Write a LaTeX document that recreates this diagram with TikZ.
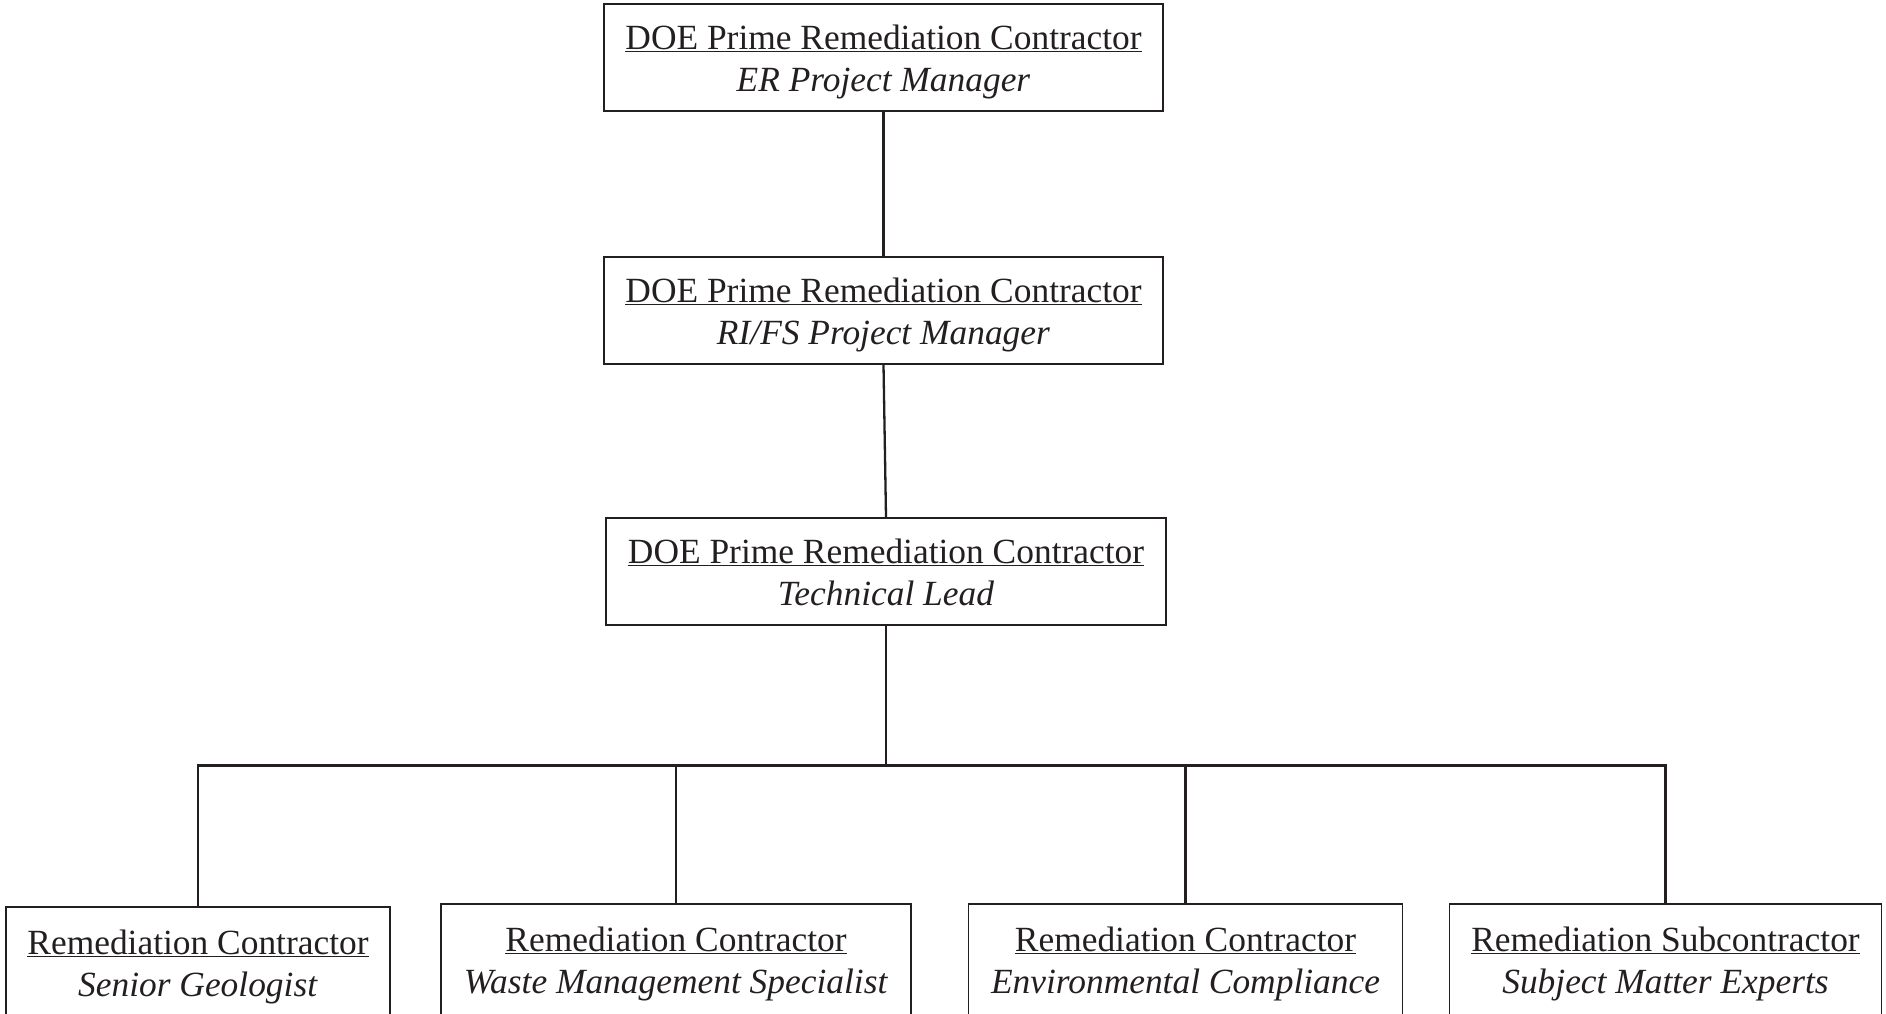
\documentclass[tikz,border=0pt]{standalone}
\usepackage{fontspec}
\setmainfont{Liberation Serif}
\definecolor{ink}{HTML}{231F20}
\newcommand\mytopst{\rule{0pt}{34pt}}
\newcommand\mybotst{\rule[-9pt]{0pt}{9pt}}
\newcommand\boxtext[2]{\mytopst\underline{#1}\\\textit{#2}\mybotst}
\tikzset{
  box/.style={draw=ink, line width=1.5pt, align=center, inner sep=0pt,
    font=\fontsize{35.4}{42}\selectfont, text=ink},
  link/.style={draw=ink, line width=2.3pt}
}
\begin{document}
\begin{tikzpicture}[x=1pt,y=-1pt]
\clip (0,0) rectangle (1886,1013);
\node[box, minimum width=559pt, minimum height=107pt] (pm) at (883.5,57.5)
  {\boxtext{DOE Prime Remediation Contractor}{ER Project Manager}};
\node[box, minimum width=559pt, minimum height=107pt] (rifs) at (883.5,310.5)
  {\boxtext{DOE Prime Remediation Contractor}{RI/FS Project Manager}};
\node[box, minimum width=560pt, minimum height=107pt] (tl) at (886,571.5)
  {\boxtext{DOE Prime Remediation Contractor}{Technical Lead}};
\node[box, minimum width=384pt, minimum height=112pt] (c1) at (198,963)
  {\boxtext{Remediation Contractor}{Senior Geologist}};
\node[box, minimum width=470pt, minimum height=112pt] (c2) at (676,960)
  {\boxtext{Remediation Contractor}{Waste Management Specialist}};
\node[box, minimum width=434pt, minimum height=112pt] (c3) at (1185.5,960)
  {\boxtext{Remediation Contractor}{Environmental Compliance}};
\node[box, minimum width=432pt, minimum height=112pt] (c4) at (1665.5,960)
  {\boxtext{Remediation Subcontractor}{Subject Matter Experts}};
\coordinate (bus) at (886,765.5);
\draw[link] (pm.south) -- (rifs.north);
\draw[link] (rifs.south) -- (tl.north);
\draw[link] (tl.south) -- (bus);
\draw[link] (bus) -| (c1.north);
\draw[link] (bus) -| (c2.north);
\draw[link] (bus) -| (c3.north);
\draw[link] (bus) -| (c4.north);
\end{tikzpicture}
\end{document}
